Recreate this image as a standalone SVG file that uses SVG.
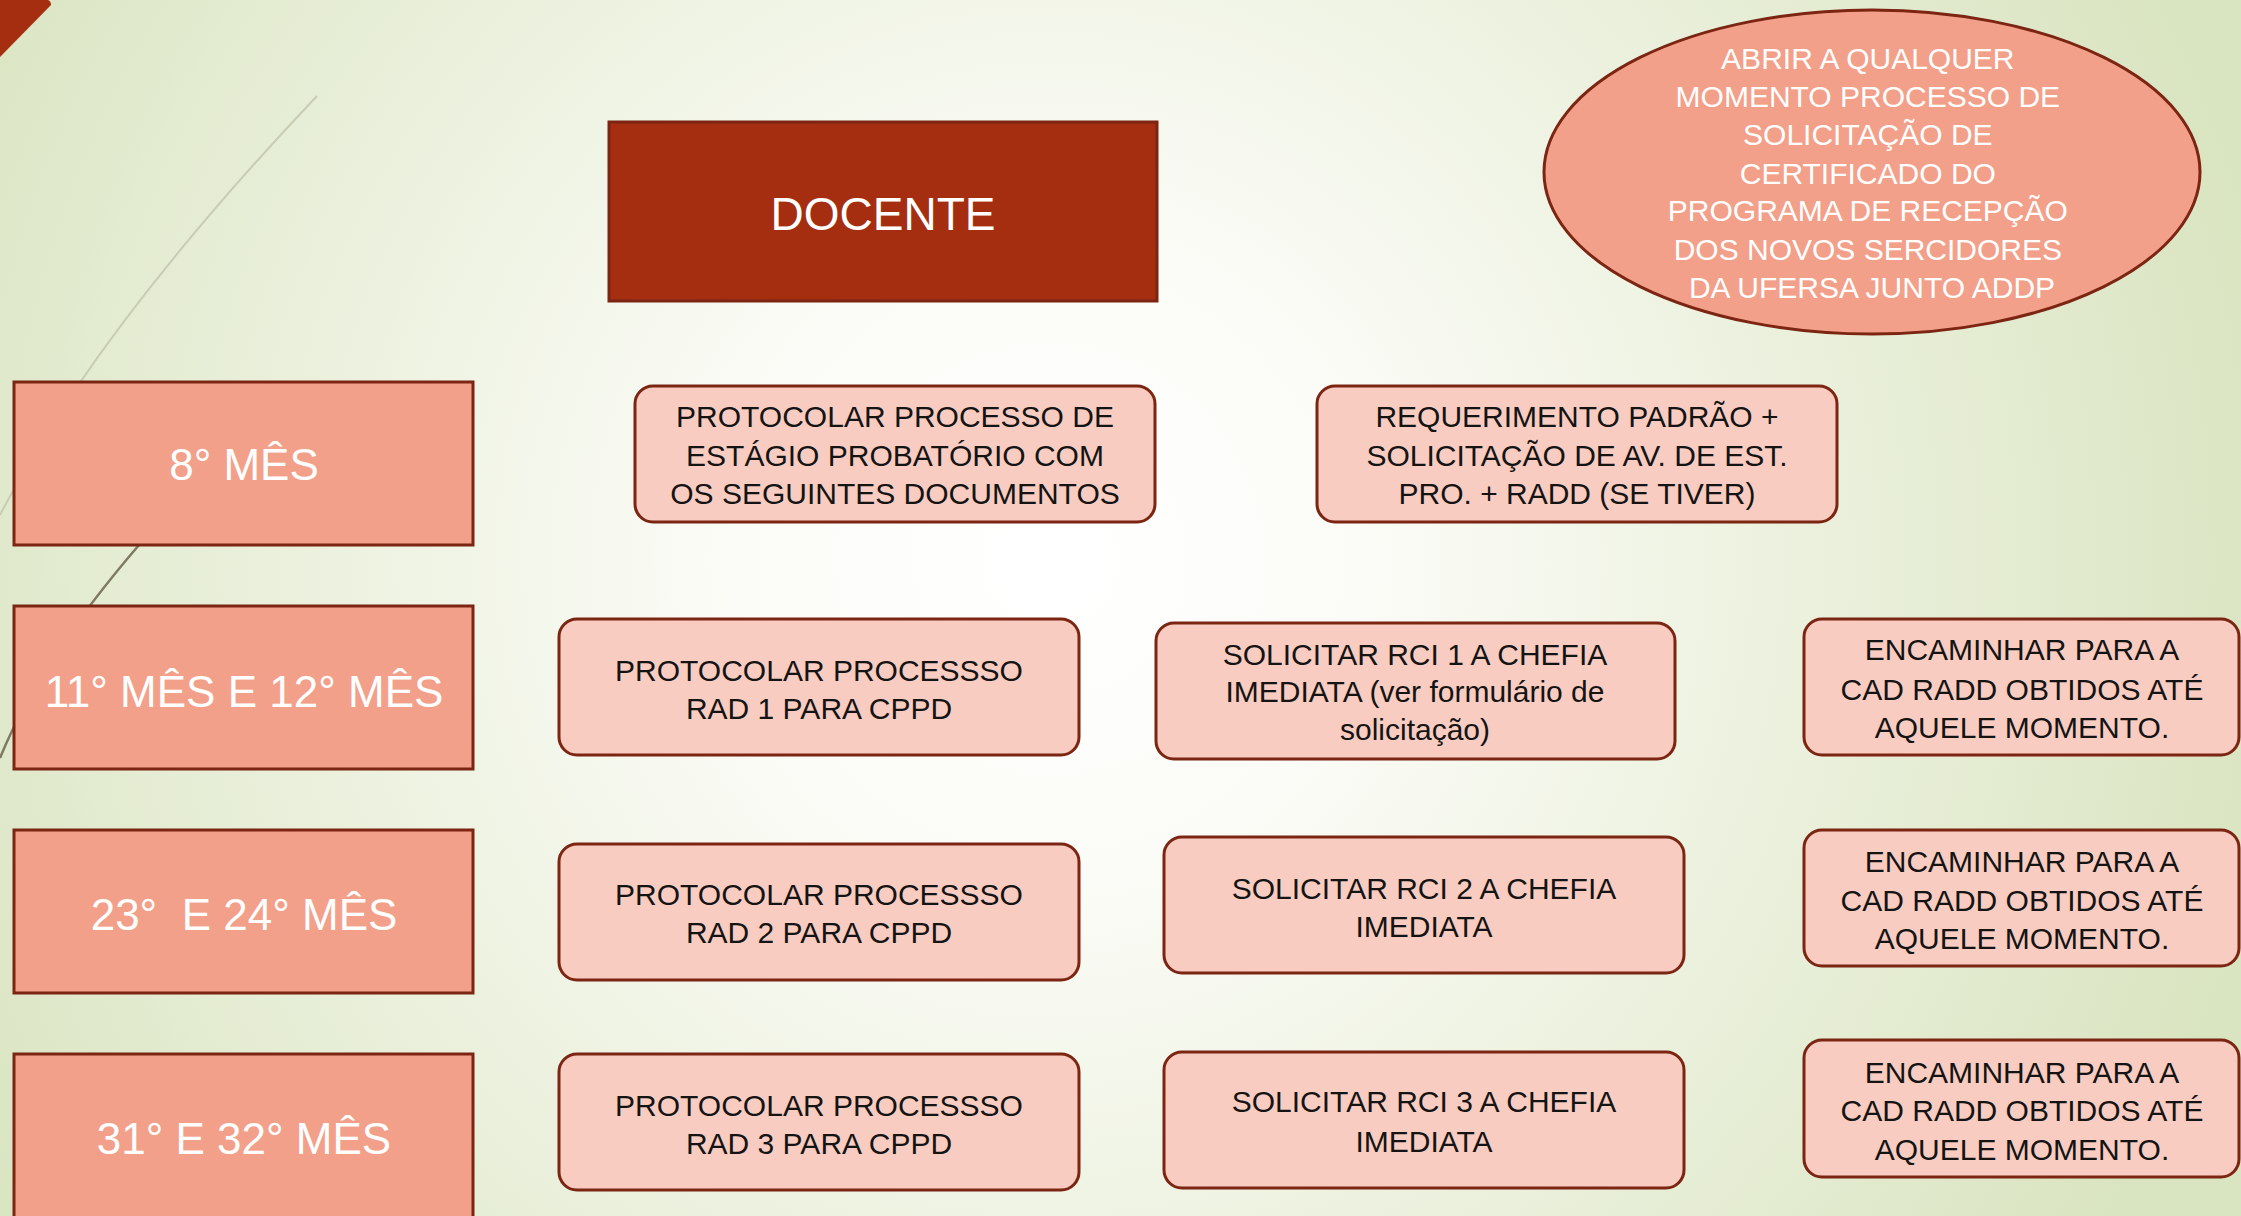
<svg xmlns="http://www.w3.org/2000/svg" width="2241" height="1216" viewBox="0 0 2241 1216">
<defs>
<radialGradient id="bg" gradientUnits="userSpaceOnUse" cx="1050" cy="560" r="1250">
<stop offset="0" stop-color="#ffffff"/>
<stop offset="0.25" stop-color="#fbfcf7"/>
<stop offset="1" stop-color="#d9e4c0"/>
</radialGradient>
<style>
.month{fill:#f3a08a;stroke:#7b2512;stroke-width:3}
.step{fill:#f9ccc1;stroke:#7b2512;stroke-width:3}
.wt{fill:#ffffff;font-family:"Liberation Sans",Arial,sans-serif;text-anchor:middle}
.bt{fill:#141414;font-family:"Liberation Sans",Arial,sans-serif;text-anchor:middle;font-size:30px}
.m{font-size:44px}
</style>
</defs>
<rect x="0" y="0" width="2241" height="1216" fill="url(#bg)"/>
<path d="M0,0 L48,0 Q51,1 51,5 L0,57 Z" fill="#a52e10"/>
<path d="M317,96 Q95,330 0,515" fill="none" stroke="#c8ccb4" stroke-width="2"/>
<path d="M190,485 L139,545 Q40,660 0,758" fill="none" stroke="#7f7a62" stroke-width="2.5"/>
<g id="connectors"></g>
<g id="docente">
<rect x="609" y="122" width="548" height="179" fill="#a52e10" stroke="#7b2512" stroke-width="3"/>
<text class="wt" x="883" y="230" font-size="46">DOCENTE</text>
</g>
<g id="certificado">
<ellipse cx="1872" cy="172" rx="328" ry="162" fill="#f3a08a" stroke="#7b2512" stroke-width="3"/>
<text class="wt" font-size="30">
<tspan x="1872" y="69">ABRIR A QUALQUER</tspan>
<tspan x="1872" y="107">MOMENTO PROCESSO DE</tspan>
<tspan x="1872" y="145">SOLICITAÇÃO DE</tspan>
<tspan x="1872" y="184">CERTIFICADO DO</tspan>
<tspan x="1872" y="221">PROGRAMA DE RECEPÇÃO</tspan>
<tspan x="1872" y="260">DOS NOVOS SERCIDORES</tspan>
<tspan x="1872" y="298">DA UFERSA JUNTO ADDP</tspan>
</text>
</g>
<g id="mes8">
<rect class="month" x="14" y="382" width="459" height="163"/>
<text class="wt m" x="244" y="480">8° MÊS</text>
</g>
<g id="mes11">
<rect class="month" x="14" y="606" width="459" height="163"/>
<text class="wt m" x="244" y="707">11° MÊS E 12° MÊS</text>
</g>
<g id="mes23">
<rect class="month" x="14" y="830" width="459" height="163"/>
<text class="wt m" x="244" y="930" xml:space="preserve">23°  E 24° MÊS</text>
</g>
<g id="mes31">
<rect class="month" x="14" y="1054" width="459" height="166"/>
<text class="wt m" x="244" y="1154">31° E 32° MÊS</text>
</g>
<g id="protocolar-estagio">
<rect class="step" x="635" y="386" width="520" height="136" rx="18"/>
<text class="bt"><tspan x="895" y="427">PROTOCOLAR PROCESSO DE</tspan><tspan x="895" y="466">ESTÁGIO PROBATÓRIO COM</tspan><tspan x="895" y="504">OS SEGUINTES DOCUMENTOS</tspan></text>
</g>
<g id="requerimento">
<rect class="step" x="1317" y="386" width="520" height="136" rx="18"/>
<text class="bt"><tspan x="1577" y="427">REQUERIMENTO PADRÃO +</tspan><tspan x="1577" y="466">SOLICITAÇÃO DE AV. DE EST.</tspan><tspan x="1577" y="504">PRO. + RADD (SE TIVER)</tspan></text>
</g>
<g id="rad1">
<rect class="step" x="559" y="619" width="520" height="136" rx="18"/>
<text class="bt"><tspan x="819" y="681">PROTOCOLAR PROCESSSO</tspan><tspan x="819" y="719">RAD 1 PARA CPPD</tspan></text>
</g>
<g id="rci1">
<rect class="step" x="1156" y="623" width="519" height="136" rx="18"/>
<text class="bt"><tspan x="1415" y="665">SOLICITAR RCI 1 A CHEFIA</tspan><tspan x="1415" y="702">IMEDIATA (ver formulário de</tspan><tspan x="1415" y="740">solicitação)</tspan></text>
</g>
<g id="encaminhar1">
<rect class="step" x="1804" y="619" width="435" height="136" rx="18"/>
<text class="bt"><tspan x="2022" y="660">ENCAMINHAR PARA A</tspan><tspan x="2022" y="700">CAD RADD OBTIDOS ATÉ</tspan><tspan x="2022" y="738">AQUELE MOMENTO.</tspan></text>
</g>
<g id="rad2">
<rect class="step" x="559" y="844" width="520" height="136" rx="18"/>
<text class="bt"><tspan x="819" y="905">PROTOCOLAR PROCESSSO</tspan><tspan x="819" y="943">RAD 2 PARA CPPD</tspan></text>
</g>
<g id="rci2">
<rect class="step" x="1164" y="837" width="520" height="136" rx="18"/>
<text class="bt"><tspan x="1424" y="899">SOLICITAR RCI 2 A CHEFIA</tspan><tspan x="1424" y="937">IMEDIATA</tspan></text>
</g>
<g id="encaminhar2">
<rect class="step" x="1804" y="830" width="435" height="136" rx="18"/>
<text class="bt"><tspan x="2022" y="872">ENCAMINHAR PARA A</tspan><tspan x="2022" y="911">CAD RADD OBTIDOS ATÉ</tspan><tspan x="2022" y="949">AQUELE MOMENTO.</tspan></text>
</g>
<g id="rad3">
<rect class="step" x="559" y="1054" width="520" height="136" rx="18"/>
<text class="bt"><tspan x="819" y="1116">PROTOCOLAR PROCESSSO</tspan><tspan x="819" y="1154">RAD 3 PARA CPPD</tspan></text>
</g>
<g id="rci3">
<rect class="step" x="1164" y="1052" width="520" height="136" rx="18"/>
<text class="bt"><tspan x="1424" y="1112">SOLICITAR RCI 3 A CHEFIA</tspan><tspan x="1424" y="1152">IMEDIATA</tspan></text>
</g>
<g id="encaminhar3">
<rect class="step" x="1804" y="1040" width="435" height="137" rx="18"/>
<text class="bt"><tspan x="2022" y="1083">ENCAMINHAR PARA A</tspan><tspan x="2022" y="1121">CAD RADD OBTIDOS ATÉ</tspan><tspan x="2022" y="1160">AQUELE MOMENTO.</tspan></text>
</g>
</svg>
